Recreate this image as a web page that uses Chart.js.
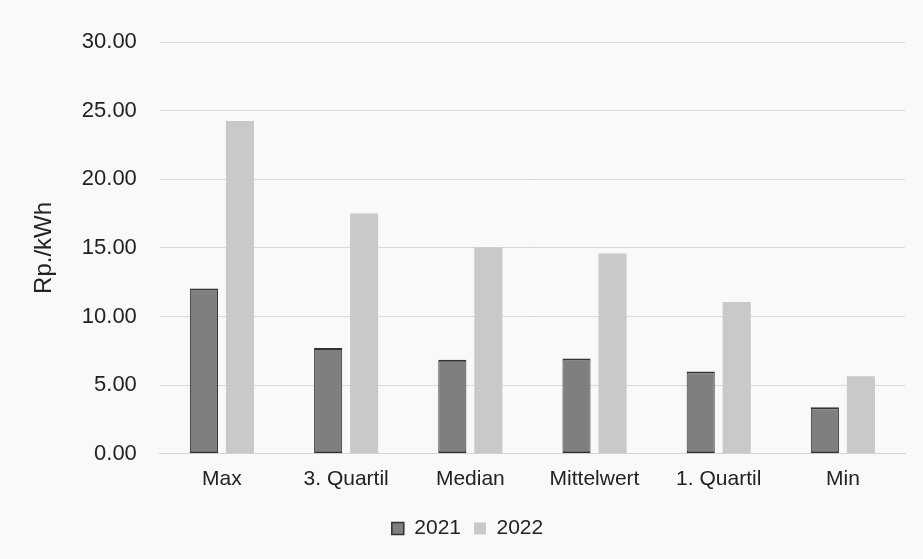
<!DOCTYPE html>
<html>
<head>
<meta charset="utf-8">
<script src="https://cdn.jsdelivr.net/npm/chart.js@4/dist/chart.umd.min.js"></script>
<style>
  html, body { margin: 0; padding: 0; background: #f9f9f8; }
  #wrap { width: 923px; height: 559px; position: relative; }
</style>
</head>
<body>
<div id="wrap"><canvas id="chart"></canvas></div>
<script>
const categories = ['Max', '3. Quartil', 'Median', 'Mittelwert', '1. Quartil', 'Min'];
const values2021 = [12.05, 7.7, 6.85, 6.95, 6.0, 3.4];
const values2022 = [24.25, 17.5, 15.05, 14.6, 11.05, 5.65];
const yTicks = [0, 5, 10, 15, 20, 25, 30];

const fontFamily = 'Liberation Sans';

const ctx = document.getElementById('chart').getContext('2d');
new Chart(ctx, {
  type: 'bar',
  data: {
    labels: categories,
    datasets: [
      {
        label: '2021',
        data: values2021,
        backgroundColor: '#7f7f7f',
        borderColor: '#333333',
        borderWidth: { top: 2, bottom: 2, left: 1, right: 1 },
        borderSkipped: false,
        categoryPercentage: 0.58,
        barPercentage: 0.78
      },
      {
        label: '2022',
        data: values2022,
        backgroundColor: '#c9c9c9',
        borderWidth: 0,
        categoryPercentage: 0.58,
        barPercentage: 0.78
      }
    ]
  },
  options: {
    responsive: true,
    maintainAspectRatio: false,
    animation: false,
    layout: { padding: { left: 30, right: 18, top: 42, bottom: 10 } },
    plugins: {
      legend: {
        position: 'bottom',
        labels: {
          font: { family: fontFamily, size: 21 },
          color: '#222',
          boxWidth: 12,
          boxHeight: 12,
          padding: 13
        }
      },
      tooltip: { enabled: false }
    },
    scales: {
      x: {
        grid: { display: false, drawTicks: false },
        border: { color: '#d4d4d4' },
        ticks: {
          font: { family: fontFamily, size: 21 },
          color: '#222',
          padding: 13
        }
      },
      y: {
        min: 0,
        max: 30,
        afterBuildTicks: axis => { axis.ticks = yTicks.map(v => ({ value: v })); },
        grid: { color: '#d9d9d9', drawTicks: false },
        border: { display: false },
        ticks: {
          font: { family: fontFamily, size: 22 },
          color: '#222',
          padding: 23,
          callback: v => v.toFixed(2)
        },
        title: {
          display: true,
          text: 'Rp./kWh',
          font: { family: fontFamily, size: 24 },
          color: '#222',
          padding: { top: 0, bottom: 0 }
        }
      }
    }
  }
});
</script>
</body>
</html>
